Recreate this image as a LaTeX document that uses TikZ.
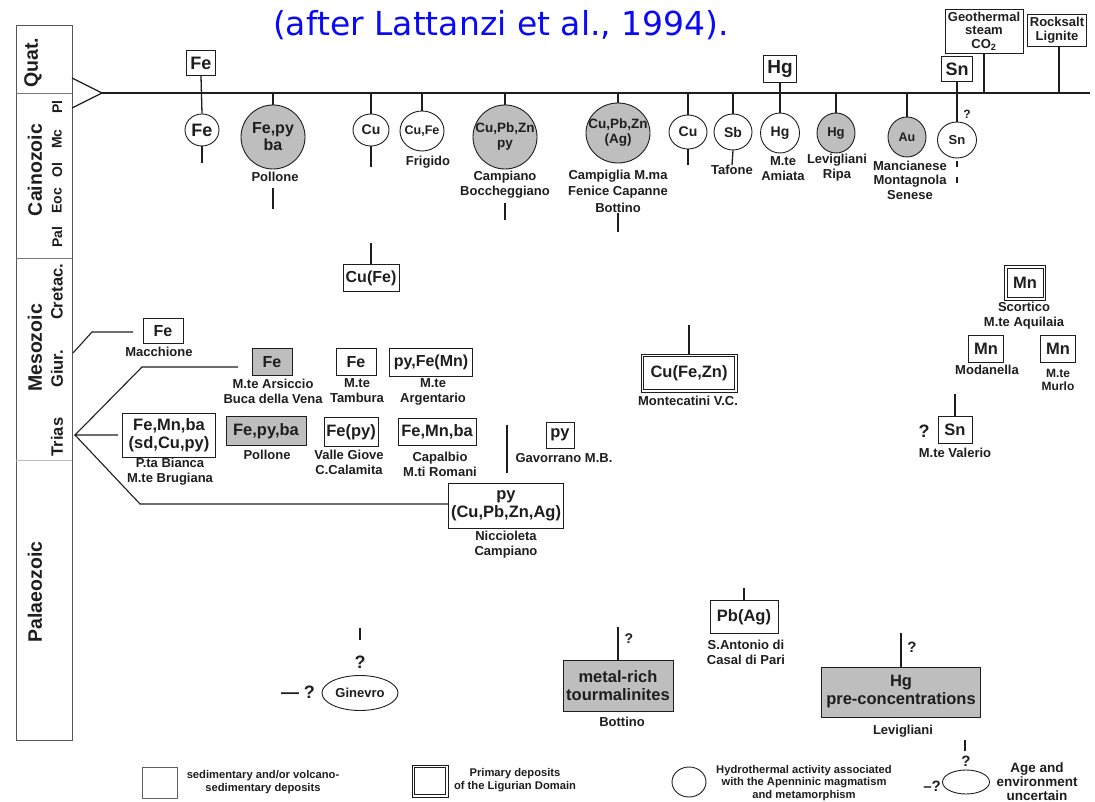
\documentclass[tikz,border=0pt]{standalone}
\usepackage{fontspec}
\setmainfont{Liberation Sans}
\newfontfamily\titlefont{DejaVu Sans}
\usetikzlibrary{shapes.geometric}
\newcommand\myfs[2]{\fontsize{#1}{#2}\selectfont\bfseries}
\newcommand\innerframe[1]{\draw[draw=ink, line width=0.8pt] ([shift={(3,3)}]#1.north west) rectangle ([shift={(-3,-3)}]#1.south east);}
\definecolor{gfill}{RGB}{190,190,190}
\definecolor{ink}{RGB}{30,30,30}
\definecolor{titleblue}{RGB}{10,10,245}
\begin{document}
\begin{tikzpicture}[x=1pt,y=-1pt,
  box/.style={draw=ink, line width=0.9pt, fill=white, inner sep=0pt, align=center, text=ink},
  gbox/.style={box, fill=gfill},
  dbox/.style={box, line width=0.8pt},
  circ/.style={ellipse, draw=ink, line width=0.9pt, fill=white, inner sep=-8pt, align=center, text=ink},
  gcirc/.style={circ, fill=gfill},
  lab/.style={inner sep=0pt, align=center, text=ink, font=\myfs{13}{15}},
  q/.style={inner sep=0pt, text=ink, font=\myfs{18}{20}},
  conn/.style={draw=ink, line width=1.3pt},
  era/.style={inner sep=0pt, rotate=90, text=ink, font=\myfs{19.5}{22}},
  sub/.style={inner sep=0pt, rotate=90, text=ink, font=\myfs{14}{16}},
  subm/.style={inner sep=0pt, rotate=90, text=ink, font=\myfs{16.5}{18}},
  leg/.style={inner sep=0pt, align=center, text=ink, font=\myfs{11.2}{12.5}},
]
\useasboundingbox (0,0) rectangle (1095,802);
\fill[white] (0,0) rectangle (1095,802);

% title
\node[inner sep=0pt, text=titleblue, font=\titlefont\fontsize{33}{36}\selectfont] (title) at (501,25) {(after Lattanzi et al., 1994).};

% left time column
\draw[draw=ink!75, line width=1pt] (16,26) rectangle (72,740);
\draw[draw=ink!60, line width=0.8pt] (16,93) -- (72,93);
\draw[draw=ink!60, line width=0.8pt] (16,258) -- (72,258);
\draw[draw=ink!30, line width=0.8pt] (16,460) -- (72,460);
\node[era] (quat) at (33,63) {Quat.};
\node[era] (caino) at (35,170) {Cainozoic};
\node[sub] (pl) at (57,107) {Pl};
\node[sub] (mc) at (57,139) {Mc};
\node[sub] (ol) at (57,170) {Ol};
\node[sub] (eoc) at (57,201) {Eoc};
\node[sub] (pal) at (57,237) {Pal};
\node[era] (meso) at (35,348) {Mesozoic};
\node[subm] (cret) at (57,292) {Cretac.};
\node[subm] (giur) at (57,369) {Giur.};
\node[subm] (trias) at (57,437) {Trias};
\node[era] (palaeo) at (35,592) {Palaeozoic};

% timeline
\coordinate (tri1) at (72,78);
\coordinate (tri2) at (72,108);
\coordinate (apex) at (102,93);
\coordinate (tend) at (1090,93);
\draw[ink, line width=1.2pt] (tri1) -- (apex) -- (tri2);
\draw[ink, line width=2.5pt] (apex) -- (tend);

% ---- top row ----
\node[box, minimum width=29pt, minimum height=25pt, font=\myfs{18}{20}] (feTop) at (201,63) {Fe};
\node[circ, minimum width=34pt, minimum height=32pt, font=\myfs{18}{20}] (feC) at (202,130) {Fe};
\coordinate (feCb) at (202,163);
\draw[conn] (feTop.south) -- (feC.north);
\draw[conn] (feC.south) -- (feCb);

\node[gcirc, minimum width=64pt, minimum height=64pt, font=\myfs{16}{17}] (fepyC) at (273,137) {Fe,py\\ba};
\coordinate (t2) at (273,93);
\draw[conn] (t2) -- (fepyC.north);
\node[lab] (pollone1) at (275,177) {Pollone};
\coordinate (p1a) at (273,188); \coordinate (p1b) at (273,209);
\draw[conn] (p1a) -- (p1b);

\node[circ, minimum width=36pt, minimum height=32pt, font=\myfs{14}{16}] (cu1) at (371,130) {Cu};
\coordinate (t3) at (371,93); \coordinate (cu1b) at (371,167);
\draw[conn] (t3) -- (cu1.north);
\draw[conn] (cu1.south) -- (cu1b);

\node[circ, minimum width=44pt, minimum height=40pt, font=\myfs{12.5}{14}] (cufe) at (422,131) {Cu,Fe};
\coordinate (t4) at (422,93);
\draw[conn] (t4) -- (cufe.north);
\node[lab] (frigido) at (428,162) {Frigido};

\node[gcirc, minimum width=64pt, minimum height=64pt, font=\myfs{13.5}{15}] (cpz1) at (505,137) {Cu,Pb,Zn\\py};
\coordinate (t5) at (505,93);
\draw[conn] (t5) -- (cpz1.north);
\node[lab] (campiano1) at (505,185) {Campiano\\Boccheggiano};
\coordinate (c5a) at (505,203); \coordinate (c5b) at (505,220);
\draw[conn] (c5a) -- (c5b);

\node[gcirc, minimum width=64pt, minimum height=60pt, font=\myfs{13.5}{15}] (cpz2) at (618,133) {Cu,Pb,Zn\\(Ag)};
\coordinate (t6) at (618,93);
\draw[conn] (t6) -- (cpz2.north);
\node[lab, font=\myfs{13}{16.5}] (campiglia) at (618,191) {Campiglia M.ma\\Fenice Capanne\\Bottino};
\coordinate (c6a) at (618,213); \coordinate (c6b) at (618,232);
\draw[conn] (c6a) -- (c6b);

\node[circ, minimum width=38pt, minimum height=34pt, font=\myfs{14}{16}] (cu2) at (688,132) {Cu};
\coordinate (t7) at (688,93); \coordinate (cu2b) at (688,165);
\draw[conn] (t7) -- (cu2.north);
\draw[conn] (cu2.south) -- (cu2b);

\node[circ, minimum width=38pt, minimum height=36pt, font=\myfs{14}{16}] (sb) at (733,132) {Sb};
\coordinate (t8) at (733,93);
\draw[conn] (t8) -- (sb.north);
\node[lab] (tafone) at (732,170) {Tafone};
\draw[conn] (sb.south) -- (tafone.north);

\node[box, minimum width=33pt, minimum height=27pt, font=\myfs{19}{21}] (hgTop) at (780,69) {Hg};
\node[circ, minimum width=39pt, minimum height=40pt, font=\myfs{14}{16}] (hg1) at (780,133) {Hg};
\draw[conn] (hgTop.south) -- (hg1.north);
\node[lab] (amiata) at (783,169) {M.te\\Amiata};

\node[gcirc, minimum width=38pt, minimum height=40pt, font=\myfs{13}{15}] (hg2) at (836,133) {Hg};
\coordinate (t9) at (836,93);
\draw[conn] (t9) -- (hg2.north);
\node[lab] (levigliani1) at (837,168) {Levigliani\\Ripa};

\node[gcirc, minimum width=38pt, minimum height=40pt, font=\myfs{12.5}{14}] (au) at (907,137) {Au};
\coordinate (t10) at (907,93);
\draw[conn] (t10) -- (au.north);
\node[lab, font=\myfs{13}{14.5}] (mancianese) at (910,180) {Mancianese\\Montagnola\\Senese};

\node[box, minimum width=31pt, minimum height=25pt, font=\myfs{18}{20}] (snTop) at (957,69) {Sn};
\node[circ, minimum width=39pt, minimum height=36pt, font=\myfs{13}{15}] (sn1) at (957,140) {Sn};
\draw[conn] (snTop.south) -- (sn1.north);
\node[q, font=\myfs{12}{14}] (snq) at (967,114) {?};
\coordinate (sn1a) at (957,161);
\coordinate (sn1b) at (957,184);
\draw[conn, dash pattern=on 6pt off 10pt] (sn1a) -- (sn1b);

\node[box, minimum width=78pt, minimum height=44pt, font=\myfs{13}{13.5}] (geo) at (984,31) {Geothermal\\steam\\CO\textsubscript{2}};
\coordinate (t11) at (984,93);
\draw[conn] (geo.south) -- (t11);

\node[box, minimum width=59pt, minimum height=32pt, font=\myfs{13}{14}] (rock) at (1057,30) {Rocksalt\\Lignite};
\coordinate (t12) at (1059,93);
\draw[conn] (rock.south -| t12) -- (t12);

% ---- middle ----
\node[box, minimum width=56pt, minimum height=27pt, font=\myfs{16}{18}] (cufeB) at (371,278) {Cu(Fe)};
\coordinate (cfa) at (371,243);
\draw[conn] (cfa) -- (cufeB.north);

\node[box, minimum width=40pt, minimum height=25pt, font=\myfs{16}{18}] (feM) at (163,331) {Fe};
\node[lab] (macchione) at (159,352) {Macchione};
\coordinate (b1a) at (73,353); \coordinate (b1b) at (92,332); \coordinate (b1c) at (133,332);
\draw[ink, line width=1.1pt] (b1a) -- (b1b) -- (b1c);

\node[gbox, minimum width=40pt, minimum height=27pt, font=\myfs{16}{18}] (feArs) at (272,362) {Fe};
\node[lab] (arsiccio) at (273,391) {M.te Arsiccio\\Buca della Vena};
\node[box, minimum width=40pt, minimum height=27pt, font=\myfs{16}{18}] (feTam) at (356,362) {Fe};
\node[lab] (tambura) at (357,391) {M.te\\Tambura};
\node[box, minimum width=83pt, minimum height=28pt, font=\myfs{16}{18}] (pyfemn) at (431,362) {py,Fe(Mn)};
\node[lab] (argentario) at (433,392) {M.te\\Argentario};

\node[box, minimum width=93pt, minimum height=44pt, font=\myfs{16.5}{18}] (femnba) at (169,435) {Fe,Mn,ba\\(sd,Cu,py)};
\node[lab] (bianca) at (170,472) {P.ta Bianca\\M.te Brugiana};
\node[gbox, minimum width=80pt, minimum height=29pt, font=\myfs{16.5}{18}] (fepyba2) at (266,431) {Fe,py,ba};
\node[lab] (pollone2) at (267,455) {Pollone};
\node[box, minimum width=54pt, minimum height=29pt, font=\myfs{16.5}{18}] (fepy) at (351,432) {Fe(py)};
\node[lab] (valle) at (349,462) {Valle Giove\\C.Calamita};
\node[box, minimum width=78pt, minimum height=27pt, font=\myfs{16.5}{18}] (femnba2) at (437,432) {Fe,Mn,ba};
\node[lab] (capalbio) at (440,464) {Capalbio\\M.ti Romani};

\node[box, minimum width=115pt, minimum height=45pt, font=\myfs{16.5}{18}] (pyBig) at (506,506) {py\\(Cu,Pb,Zn,Ag)};
\coordinate (pya) at (507,425); \coordinate (pyb) at (507,473);
\draw[conn] (pya) -- (pyb);
\node[lab] (niccioleta) at (506,545) {Niccioleta\\Campiano};

% Trias bracket
\coordinate (tr0) at (75,435);
\coordinate (tr1) at (142,367); \coordinate (tr2) at (238,367);
\coordinate (tr3) at (118,435);
\coordinate (tr4) at (140,504);
\draw[ink, line width=1.1pt] (tr2) -- (tr1) -- (tr0) -- (tr3);
\draw[ink, line width=1.1pt] (tr0) -- (tr4) -- (tr4 -| pyBig.west);

\node[box, minimum width=28pt, minimum height=26pt, font=\myfs{16.5}{18}] (pyG) at (560,435) {py};
\node[lab] (gavorrano) at (564,458) {Gavorrano M.B.};

\node[dbox, minimum width=96pt, minimum height=38pt, font=\myfs{16.5}{18}] (cufezn) at (689,373) {Cu(Fe,Zn)};
\innerframe{cufezn}
\coordinate (cza) at (689,325);
\draw[conn] (cza) -- (cufezn.north);
\node[lab] (montecatini) at (688,401) {Montecatini V.C.};

% right
\node[dbox, minimum width=41pt, minimum height=35pt, font=\myfs{16.5}{18}] (mn1) at (1025,283) {Mn};
\innerframe{mn1}
\node[lab] (scortico) at (1024,316) {Scortico\\M.te Aquilaia};
\node[box, minimum width=35pt, minimum height=27pt, font=\myfs{16.5}{18}] (mn2) at (986,349) {Mn};
\node[lab] (modanella) at (987,370) {Modanella};
\node[box, minimum width=35pt, minimum height=27pt, font=\myfs{16.5}{18}] (mn3) at (1058,349) {Mn};
\node[lab, font=\myfs{12}{13}] (murlo) at (1058,380) {M.te\\Murlo};

\node[box, minimum width=34pt, minimum height=27pt, font=\myfs{16.5}{18}] (sn2) at (955,430) {Sn};
\coordinate (sn2a) at (955,394);
\draw[conn] (sn2a) -- (sn2.north);
\node[q] (sn2q) at (924,431) {?};
\node[lab] (valerio) at (955,453) {M.te Valerio};

% bottom
\node[circ, minimum width=76pt, minimum height=35pt, font=\myfs{13}{15}] (ginevro) at (360,693) {Ginevro};
\node[q] (ginq) at (360,662) {?};
\coordinate (gia) at (360,628); \coordinate (gib) at (360,640);
\draw[conn] (gia) -- (gib);
\node[q] (ginq2) at (298,692) {— ?};

\node[gbox, minimum width=110pt, minimum height=51pt, font=\myfs{16.5}{18}] (metal) at (618,686) {metal-rich\\tourmalinites};
\coordinate (mea) at (618,627);
\draw[conn] (mea) -- (metal.north);
\node[q, font=\myfs{14}{16}] (metalq) at (629,639) {?};
\node[lab] (bottino2) at (622,722) {Bottino};

\node[box, minimum width=68pt, minimum height=33pt, font=\myfs{16.5}{18}] (pbag) at (744,617) {Pb(Ag)};
\coordinate (pba) at (744,588);
\draw[conn] (pba) -- (pbag.north);
\node[lab] (antonio) at (746,652) {S.Antonio di\\Casal di Pari};

\node[gbox, minimum width=159pt, minimum height=50pt, font=\myfs{16.5}{18}] (hgpre) at (901,692) {Hg\\pre-concentrations};
\coordinate (hpa) at (901,633);
\draw[conn] (hpa) -- (hgpre.north);
\node[q, font=\myfs{15}{17}] (hgq) at (912,647) {?};
\node[lab] (levigliani2) at (903,731) {Levigliani};

% legend
\node[box, draw=ink!70, minimum width=35pt, minimum height=31pt] (lg1) at (159.5,782.5) {};
\node[leg] (lg1t) at (263,782) {sedimentary and/or volcano-\\sedimentary deposits};
\node[dbox, minimum width=36pt, minimum height=32pt] (lg2) at (430,781) {};
\innerframe{lg2}
\node[leg] (lg2t) at (515,780) {Primary deposits\\of the Ligurian Domain};
\node[circ, minimum width=34pt, minimum height=30pt] (lg3) at (689,782) {};
\node[leg, font=\myfs{11.2}{12.3}] (lg3t) at (804,783) {Hydrothermal activity associated\\with the Apenninic magmatism\\and metamorphism};
\node[circ, minimum width=47pt, minimum height=24pt] (lg4) at (966,782) {};
\coordinate (lga) at (965,740); \coordinate (lgb) at (965,751);
\draw[conn] (lga) -- (lgb);
\node[q, font=\myfs{15}{17}] (lgq) at (966,761) {?};
\node[q, font=\myfs{15}{17}] (lgq2) at (932,786) {–?};
\node[lab, font=\myfs{13.5}{14}] (lg4t) at (1037,782) {Age and\\environment\\uncertain};
\end{tikzpicture}
\end{document}
